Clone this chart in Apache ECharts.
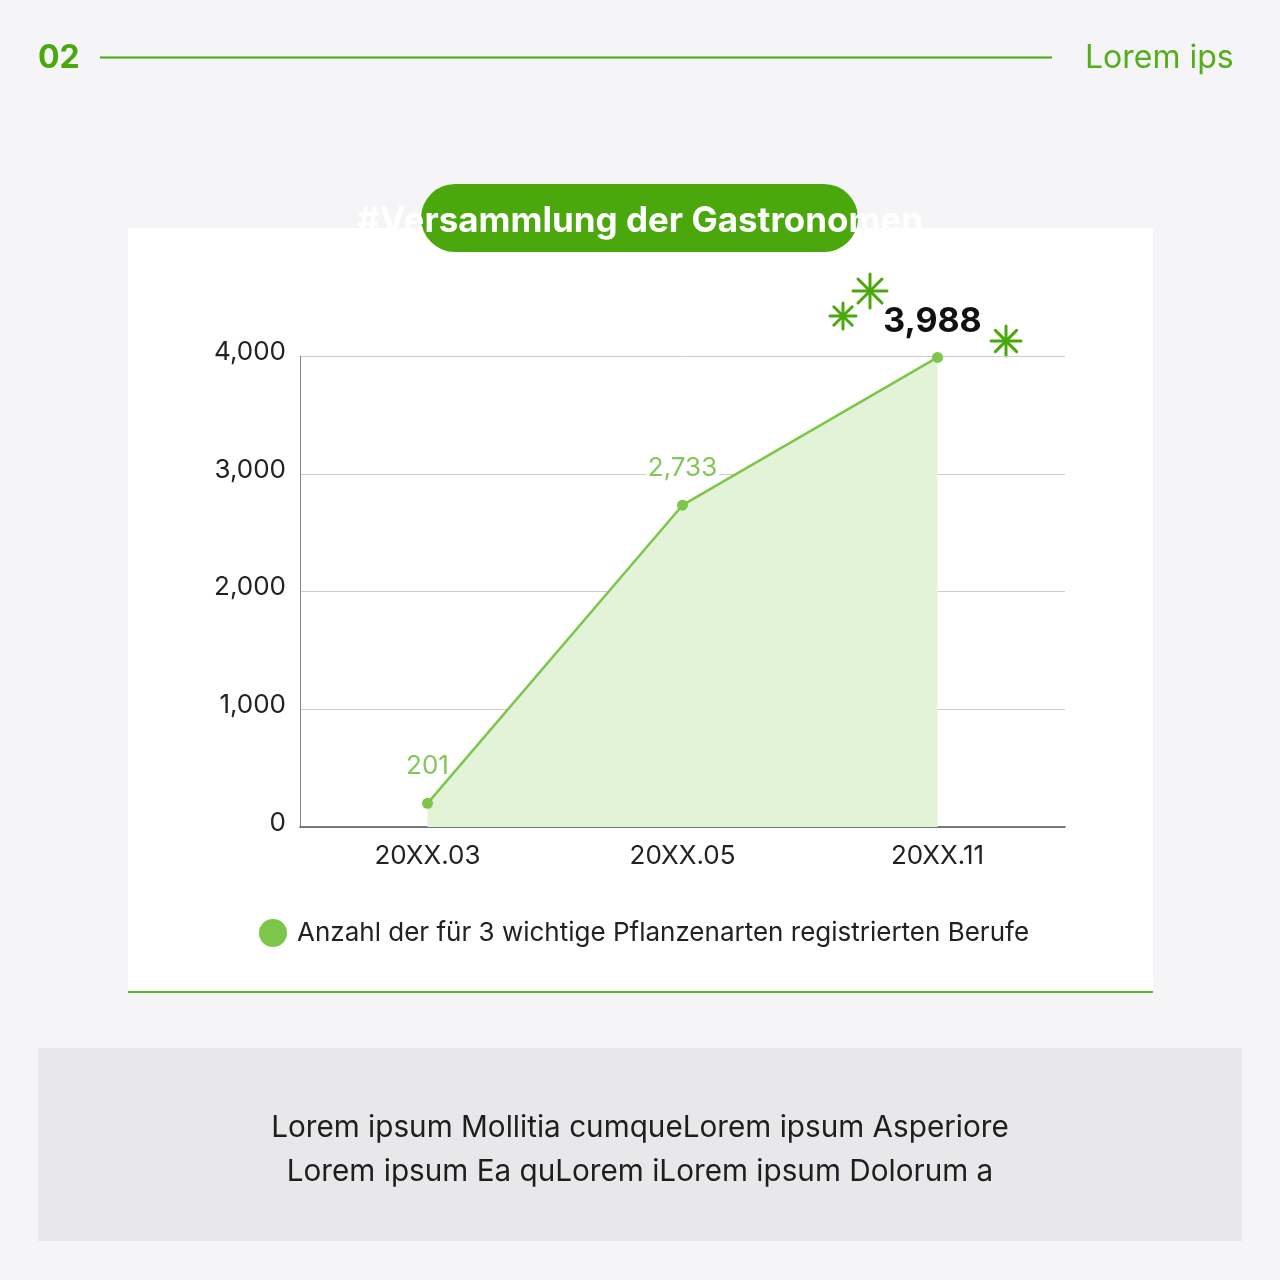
<!DOCTYPE html>
<html><head><meta charset="utf-8">
<script src="https://cdn.jsdelivr.net/npm/echarts@6/dist/echarts.min.js"></script>
<style>html,body{margin:0;padding:0;background:#f5f5f7}#c{width:1280px;height:1280px}</style>
</head><body><div id="c"></div>
<script>
const categories = ['20XX.03', '20XX.05', '20XX.11'];
const values = [201, 2733, 3988];
const yTicks = [0, 1000, 2000, 3000, 4000];
const seriesName = 'Anzahl der für 3 wichtige Pflanzenarten registrierten Berufe';
const titleText = '#Versammlung der Gastronomen';
const headerNum = '02';
const headerRight = 'Lorem ips';
const footerLines = ['Lorem ipsum Mollitia cumqueLorem ipsum Asperiore', 'Lorem ipsum Ea quLorem iLorem ipsum Dolorum a'];

const GREEN = '#4aa80c';
const LINE = '#7cc64a';
const FONT = 'Inter, "Noto Sans", sans-serif';

function star(cx, cy, r) {
  const children = [];
  for (let i = 0; i < 4; i++) {
    const a = i * Math.PI / 4;
    const dx = Math.sin(a) * r, dy = Math.cos(a) * r;
    children.push({type: 'line', shape: {x1: cx - dx, y1: cy - dy, x2: cx + dx, y2: cy + dy},
      style: {stroke: GREEN, lineWidth: 3, lineCap: 'round'}});
  }
  return {type: 'group', z: 20, children};
}

const chart = echarts.init(document.getElementById('c'));
const fmt = v => v.toLocaleString('en-US');
chart.setOption({
  backgroundColor: '#f5f5f7',
  animation: false,
  textStyle: {fontFamily: FONT},
  graphic: [
    {type: 'text', z: 5, x: 38, y: 58, style: {text: headerNum, fontSize: 32, fontWeight: 'bold', fill: GREEN, verticalAlign: 'middle', fontFamily: FONT}},
    {type: 'line', z: 5, shape: {x1: 100, y1: 57.5, x2: 1052, y2: 57.5}, style: {stroke: GREEN, lineWidth: 2}},
    {type: 'text', z: 5, x: 1085, y: 58, style: {text: headerRight, fontSize: 32, fill: '#56ad1c', verticalAlign: 'middle', fontFamily: FONT}},
    {type: 'rect', z: -10, shape: {x: 128, y: 228, width: 1025, height: 764}, style: {fill: '#ffffff'}},
    {type: 'line', z: 5, shape: {x1: 128, y1: 992, x2: 1153, y2: 992}, style: {stroke: '#62b52c', lineWidth: 2}},
    {type: 'rect', z: 10, shape: {x: 421, y: 184, width: 437, height: 68, r: 34}, style: {fill: GREEN}},
    {type: 'text', z: 11, x: 640, y: 221, style: {text: titleText, fontSize: 35, fontWeight: 'bold', fill: '#ffffff', align: 'center', verticalAlign: 'middle', fontFamily: FONT}},
    star(870, 291, 17),
    star(843, 316, 13),
    star(1006, 341, 15),
    {type: 'rect', z: -10, shape: {x: 38, y: 1048, width: 1204, height: 193}, style: {fill: '#e8e7e9'}},
    {type: 'text', z: 5, x: 640, y: 1128, style: {text: footerLines[0], fontSize: 29.7, fill: '#1e1e1e', align: 'center', verticalAlign: 'middle', fontFamily: FONT}},
    {type: 'text', z: 5, x: 640, y: 1172, style: {text: footerLines[1], fontSize: 29.7, fill: '#1e1e1e', align: 'center', verticalAlign: 'middle', fontFamily: FONT}}
  ],
  grid: {left: 300, top: 356, width: 765, height: 471, containLabel: false},
  legend: {
    left: 259, top: 919, padding: 0, icon: 'circle', itemWidth: 28, itemHeight: 28, itemGap: 10,
    textStyle: {fontSize: 26, color: '#222', fontFamily: FONT, padding: [0, 0, 10, 5]},
    data: [{name: seriesName, itemStyle: {color: LINE}}]
  },
  xAxis: {
    type: 'category', data: categories, boundaryGap: true,
    axisLine: {lineStyle: {color: '#555', width: 1.5}},
    axisTick: {show: false},
    axisLabel: {fontSize: 26, color: '#222', margin: 16, fontFamily: FONT}
  },
  yAxis: {
    type: 'value', min: yTicks[0], max: yTicks[yTicks.length - 1], interval: 1000,
    axisLine: {show: true, lineStyle: {color: '#888', width: 1}},
    axisTick: {show: false},
    splitLine: {lineStyle: {color: '#cccccc', width: 1}},
    axisLabel: {
      fontSize: 26, color: '#222', margin: 14, fontFamily: FONT,
      formatter: v => '{a|' + fmt(v) + '}',
      rich: {a: {fontSize: 26, color: '#222', fontFamily: FONT, padding: [0, 0, 8, 0]}}
    }
  },
  series: [{
    name: seriesName, type: 'line', symbol: 'circle', symbolSize: 11,
    itemStyle: {color: LINE},
    lineStyle: {color: LINE, width: 2.5},
    areaStyle: {color: '#e3f3d8', opacity: 1},
    label: {show: true, position: 'top', distance: 19, fontSize: 26, color: '#84c65a', formatter: p => fmt(p.value), fontFamily: FONT},
    data: [
      values[0],
      {value: values[1], label: {backgroundColor: '#ffffff', padding: [0, 2]}},
      {value: values[2], label: {fontSize: 34, fontWeight: 'bold', color: '#111', distance: 13, offset: [-5, 0]}}
    ]
  }]
});
</script></body></html>
